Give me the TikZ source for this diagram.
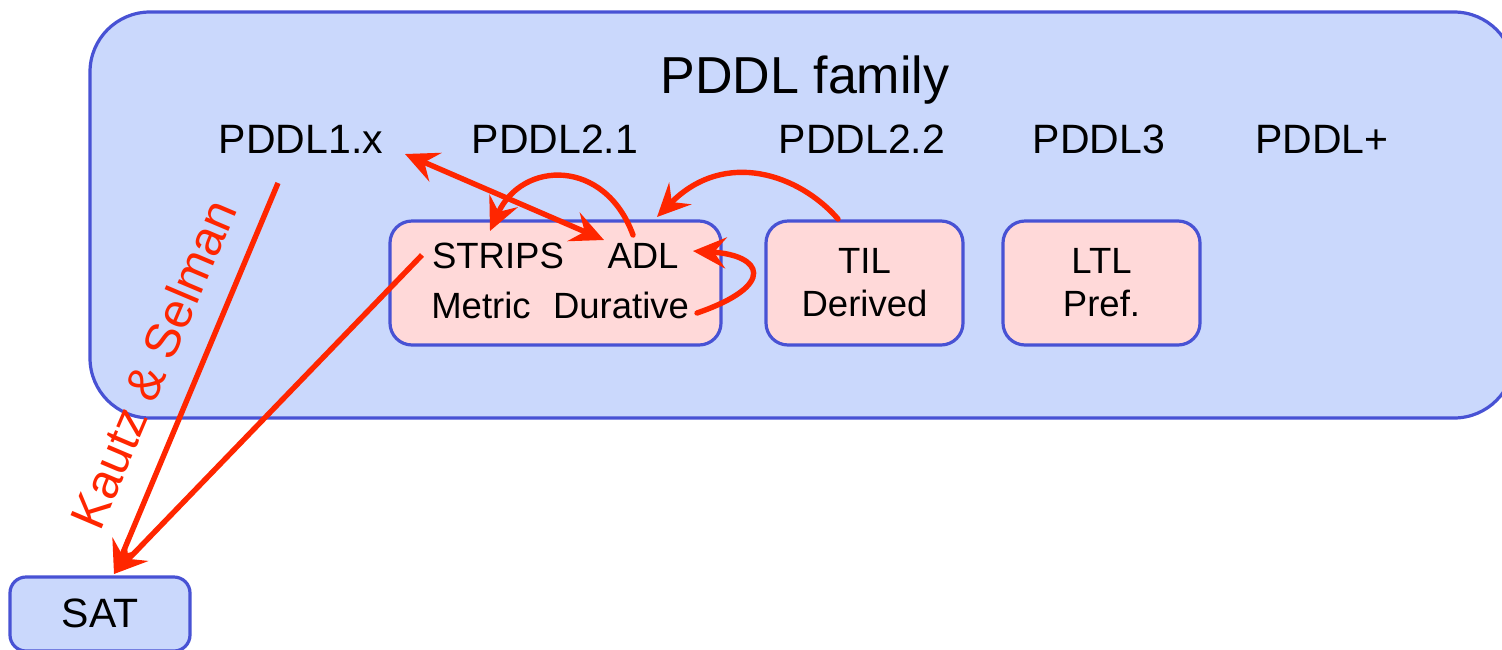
\documentclass[tikz,border=0pt]{standalone}
\usepackage{fontspec}
\setmainfont{Liberation Sans}
\usetikzlibrary{arrows.meta}
\definecolor{famfill}{RGB}{202,216,252}
\definecolor{famline}{RGB}{72,82,212}
\definecolor{boxfill}{RGB}{255,217,217}
\definecolor{arrred}{RGB}{255,38,0}
\tikzset{
  bigbox/.style={draw=famline, fill=famfill, line width=3.2pt, rounded corners=60pt, inner sep=0pt},
  featbox/.style={draw=famline, fill=boxfill, line width=3.2pt, rounded corners=22pt, inner sep=0pt, align=center, font=\fontsize{36.5}{43}\selectfont},
  satbox/.style={draw=famline, fill=famfill, line width=3.2pt, rounded corners=16pt, inner sep=0pt, font=\fontsize{41}{49}\selectfont},
  lang/.style={anchor=base, inner sep=0pt, font=\fontsize{41}{49}\selectfont},
  feat/.style={anchor=base, inner sep=0pt, font=\fontsize{36.5}{43}\selectfont},
  redarrow/.style={draw=arrred, line width=5.4pt, -{Stealth[length=33pt,width=31pt,inset=12pt]}},
  redline/.style={draw=arrred, line width=5.4pt, line cap=round},
}
\begin{document}
\begin{tikzpicture}[x=1pt,y=-1pt]
\clip (0,0) rectangle (1502,649);
\fill[white] (0,0) rectangle (1502,649);
% family box
\node[bigbox, minimum width=1424pt, minimum height=406pt] (fam) at (802,215) {};
\node[inner sep=0pt, anchor=base, font=\fontsize{52}{60}\selectfont] (title) at (805,93) {PDDL family};
% language labels
\node[lang] (p1) at (301,153) {PDDL1.x};
\node[lang] (p21) at (555,153) {PDDL2.1};
\node[lang] (p22) at (862,153) {PDDL2.2};
\node[lang] (p3) at (1099,153) {PDDL3};
\node[lang] (pplus) at (1322,153) {PDDL+};
% feature boxes
\node[featbox, minimum width=331pt, minimum height=124pt] (core) at (555.5,283) {};
\node[feat] (strips) at (498,268) {STRIPS};
\node[feat] (adl) at (643,268) {ADL};
\node[feat] (metric) at (481,318) {Metric};
\node[feat] (durative) at (621,318) {Durative};
\node[featbox, minimum width=197pt, minimum height=124pt] (til) at (864.5,283) {TIL\\Derived};
\node[featbox, minimum width=197pt, minimum height=124pt] (ltl) at (1101.5,283) {LTL\\Pref.};
% SAT
\node[satbox, minimum width=180pt, minimum height=74pt] (sat) at (100,614) {\raisebox{2pt}{SAT}};
% coordinates for arrow ends
\coordinate (p1end) at (405,154);
\coordinate (adlend) at (604,240);
\coordinate (adlstart) at (633,235);
\coordinate (stripsend) at (490,231);
\coordinate (tilstart) at (838,219);
\coordinate (coreend) at (657,217);
\coordinate (durstart) at (697,313);
\coordinate (adlright) at (693,251);
\coordinate (p1start) at (278,183);
\coordinate (stripsstart) at (422,255);
\coordinate (satend) at (114,574);
% arrows
\draw[redline, {Stealth[length=33pt,width=31pt,inset=12pt]}-{Stealth[length=33pt,width=31pt,inset=12pt]}] (p1end) -- (adlend);
\draw[redarrow, line cap=round] (adlstart) .. controls (605,158) and (522,160) .. (stripsend);
\draw[redarrow, line cap=round] (tilstart) .. controls (800,175) and (725,148) .. (coreend);
\draw[redarrow, line cap=round] (durstart) .. controls (778,285) and (762,255) .. (adlright);
\draw[redarrow] (p1start) -- (satend);
\draw[redarrow] (stripsstart) -- (satend);
\node[text=arrred, rotate=67, inner sep=0pt, font=\fontsize{49}{54}\selectfont] (ks) at (153,364) {Kautz \& Selman};
\end{tikzpicture}
\end{document}
